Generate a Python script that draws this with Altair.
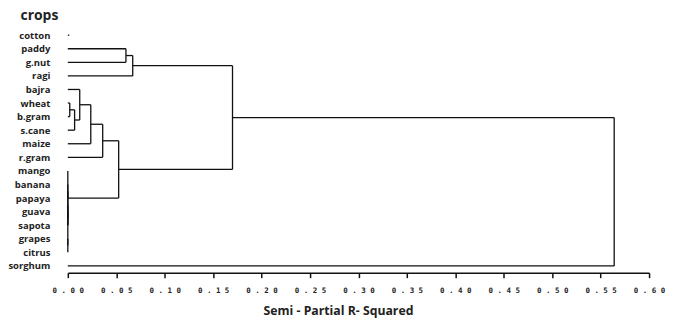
import altair as alt
import pandas as pd

# leaf order (top to bottom)
crops = ["cotton", "paddy", "g.nut", "ragi", "bajra", "wheat", "b.gram", "s.cane",
         "maize", "r.gram", "mango", "banana", "papaya", "guava", "sapota",
         "grapes", "citrus", "sorghum"]

# merges: (left, right, semi-partial R-squared); ints refer to earlier merges
merge_left = ["wheat", 0, "bajra", 2, 3, "banana", "guava", 5, "grapes", 7, "mango", 4, "paddy", 12, 13, 14]
merge_right = ["b.gram", "s.cane", 1, "maize", "r.gram", "papaya", "sapota", 6, "citrus", 8, 9, 10, "g.nut", "ragi", 11, "sorghum"]
merge_height = [0.002, 0.007, 0.0123, 0.0237, 0.036, 0.0, 0.0, 0.0, 0.0, 0.0, 0.0,
                0.0525, 0.060, 0.067, 0.170, 0.564]

# cotton is shown only as a tiny stub
cotton_stub = 0.0015

x_ticks = [0.0, 0.05, 0.10, 0.15, 0.20, 0.25, 0.30, 0.35, 0.40, 0.45, 0.50, 0.55, 0.60]

# build segments from the linkage
pos = {}
def node(k):
    if isinstance(k, str):
        return crops.index(k), 0.0
    return pos[k]

segs = [dict(x=0.0, x2=cotton_stub, y=crops.index("cotton"), y2=crops.index("cotton"))]
for i, (a, b, h) in enumerate(zip(merge_left, merge_right, merge_height)):
    ya, ha = node(a)
    yb, hb = node(b)
    segs.append(dict(x=ha, x2=h, y=ya, y2=ya))
    segs.append(dict(x=hb, x2=h, y=yb, y2=yb))
    segs.append(dict(x=h, x2=h, y=ya, y2=yb))
    pos[i] = ((ya + yb) / 2, h)

df = pd.DataFrame(segs)

label_arr = "[" + ",".join("'" + c + "'" for c in crops) + "]"

xscale = alt.Scale(domain=[0, 0.6], nice=False, zero=False)
yscale = alt.Scale(domain=[-0.5, len(crops) - 0.5], reverse=True, nice=False, zero=False)

xaxis = alt.Axis(
    values=x_ticks, grid=False, domainColor="#111", domainWidth=1.5,
    tickColor="#111", tickWidth=1.5, tickSize=5,
    labelExpr="join(split(format(datum.value, '.2f'), ''), ' ')",
    labelFont="DejaVu Sans Mono", labelFontWeight="bold", labelFontSize=7.5,
    labelColor="#222", labelPadding=9, labelOverlap=False, labelFlush=False,
    title="Semi - Partial R- Squared", titleFont="Open Sans", titleFontWeight="bold",
    titleFontSize=12.3, titleColor="#222", titleX=271, titleY=42,
    titleBaseline="alphabetic", titleAnchor="middle",
)
yaxis = alt.Axis(
    values=list(range(len(crops))), grid=False, domain=False, ticks=False, tickSize=0,
    labelExpr=label_arr + "[datum.value]", labelOverlap=False, labelFlush=False,
    labelBound=False,
    labelFont="Open Sans", labelFontWeight="bold", labelFontSize=9.5,
    labelColor="#222", labelPadding=18,
    title="crops", titleFont="Open Sans", titleFontWeight="bold", titleFontSize=14,
    titleColor="#222", titleAngle=0, titleX=-48, titleY=-9, titleAlign="left",
    titleBaseline="alphabetic",
)

chart = alt.Chart(df).mark_rule(color="#111", strokeWidth=1.3).encode(
    x=alt.X("x:Q", scale=xscale, axis=xaxis),
    x2="x2:Q",
    y=alt.Y("y:Q", scale=yscale, axis=yaxis),
    y2="y2:Q",
).properties(
    width=583, height=245,
    autosize=alt.AutoSizeParams(type="none"),
    padding={"left": 60, "top": 20, "right": 20, "bottom": 45},
).configure_view(stroke=None)

chart.save("out.html", embed_options={"renderer": "svg", "actions": False})
